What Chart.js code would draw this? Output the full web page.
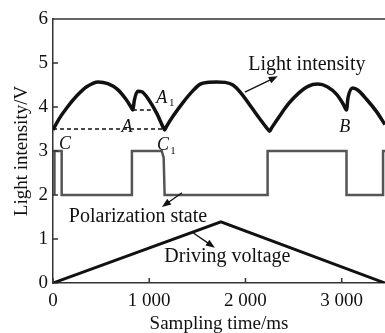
<!DOCTYPE html>
<html lang="en">
<head>
  <meta charset="UTF-8">
  <title>Light intensity, polarization state and driving voltage</title>
  <script src="https://cdn.jsdelivr.net/npm/chart.js"></script>
  <style>
    html, body {
      margin: 0;
      padding: 0;
      background: #fff;
      overflow: hidden;
    }
    .chart-box {
      position: relative;
      width: 385px;
      height: 333px;
    }
  </style>
</head>
<body>
  <div class="chart-box">
    <canvas id="lightChart"></canvas>
  </div>

  <script>
    // values (time in ms, signal in V)
    const lightTime = [0, 60, 150, 250, 350, 470, 570, 670, 760, 810, 830, 845, 880, 920, 1000, 1080, 1140, 1160, 1180,
      1250, 1350, 1450, 1530, 1620, 1700, 1790, 1870, 1960, 2060, 2160, 2230, 2250, 2270, 2350, 2450, 2550, 2650,
      2750, 2850, 2950, 3020, 3050, 3065, 3115, 3170, 3260, 3360, 3450];
    const lightValue = [3.48, 3.72, 4.0, 4.26, 4.46, 4.57, 4.53, 4.4, 4.17, 4.0, 3.93, 4.15, 4.36, 4.35, 4.15, 3.85, 3.56, 3.48, 3.56,
      3.8, 4.1, 4.36, 4.52, 4.56, 4.57, 4.56, 4.5, 4.3, 4.0, 3.7, 3.5, 3.45, 3.52, 3.78, 4.08, 4.31, 4.47,
      4.52, 4.46, 4.28, 4.05, 3.93, 4.2, 4.43, 4.38, 4.17, 3.9, 3.6];

    const polTime = [15, 15, 90, 90, 820, 820, 1130, 1150, 1160, 2230, 2230, 3050, 3050, 3430, 3430, 3450];
    const polValue = [2, 3, 3, 2, 2, 3, 3, 2.85, 2, 2, 3, 3, 2, 2, 3, 3];

    const driveTime = [0, 1745, 3450];
    const driveValue = [0, 1.39, 0];

    // dashed reference levels
    const levelCTime = [0, 1160];
    const levelCValue = [3.5, 3.5];
    const levelATime = [830, 1030];
    const levelAValue = [3.93, 3.93];

    const xTicks = [0, 1000, 2000, 3000];
    const yTicks = [0, 1, 2, 3, 4, 5, 6];

    // text annotations, placed in data coordinates
    const notes = [
      { text: 'Light intensity', t: 2638, v: 4.95 },
      { text: 'Polarization state', t: 883, v: 1.5 },
      { text: 'Driving voltage', t: 1812, v: 0.59 }
    ];
    const arrows = [
      { from: [1994, 4.34], to: [2336, 4.70] },
      { from: [1340, 2.05], to: [1132, 1.73] },
      { from: [1443, 1.16], to: [1682, 0.80] }
    ];
    const marks = [
      { text: 'C', sub: '', t: 125, v: 3.16 },
      { text: 'A', sub: '', t: 768, v: 3.55 },
      { text: 'A', sub: '1', t: 1130, v: 4.2 },
      { text: 'C', sub: '1', t: 1142, v: 3.12 },
      { text: 'B', sub: '', t: 3032, v: 3.55 }
    ];

    const serif = '"Liberation Serif", "Times New Roman", serif';
    const axisColor = '#333';

    function toPoints(xs, ys) {
      return xs.map((x, i) => ({ x: x, y: ys[i] }));
    }

    // top frame line, inward ticks, labels and arrows
    const framePlugin = {
      id: 'framePlugin',
      afterDraw(chart) {
        const ctx = chart.ctx;
        const area = chart.chartArea;
        const x = chart.scales.x;
        const y = chart.scales.y;

        ctx.save();
        ctx.strokeStyle = axisColor;
        ctx.lineWidth = 1.5;
        ctx.beginPath();
        ctx.moveTo(area.left, area.top);
        ctx.lineTo(chart.width, area.top);
        yTicks.forEach(v => {
          const py = y.getPixelForValue(v);
          ctx.moveTo(area.left, py);
          ctx.lineTo(area.left + 5, py);
        });
        xTicks.forEach(v => {
          const px = x.getPixelForValue(v);
          ctx.moveTo(px, area.bottom);
          ctx.lineTo(px, area.bottom - 5);
        });
        ctx.stroke();

        ctx.fillStyle = '#111';
        ctx.textAlign = 'center';
        ctx.textBaseline = 'middle';
        ctx.font = '20px ' + serif;
        notes.forEach(n => {
          ctx.fillText(n.text, x.getPixelForValue(n.t), y.getPixelForValue(n.v));
        });

        marks.forEach(m => {
          const px = x.getPixelForValue(m.t);
          const py = y.getPixelForValue(m.v);
          ctx.font = 'italic 18px ' + serif;
          ctx.fillText(m.text, px, py);
          if (m.sub) {
            ctx.font = '11px ' + serif;
            ctx.fillText(m.sub, px + 10, py + 5);
          }
        });

        ctx.strokeStyle = '#111';
        ctx.lineWidth = 1.3;
        arrows.forEach(a => {
          const x1 = x.getPixelForValue(a.from[0]);
          const y1 = y.getPixelForValue(a.from[1]);
          const x2 = x.getPixelForValue(a.to[0]);
          const y2 = y.getPixelForValue(a.to[1]);
          const ang = Math.atan2(y2 - y1, x2 - x1);
          ctx.beginPath();
          ctx.moveTo(x1, y1);
          ctx.lineTo(x2 - 6 * Math.cos(ang), y2 - 6 * Math.sin(ang));
          ctx.stroke();
          ctx.beginPath();
          ctx.moveTo(x2, y2);
          ctx.lineTo(x2 - 9 * Math.cos(ang) + 3.5 * Math.sin(ang), y2 - 9 * Math.sin(ang) - 3.5 * Math.cos(ang));
          ctx.lineTo(x2 - 9 * Math.cos(ang) - 3.5 * Math.sin(ang), y2 - 9 * Math.sin(ang) + 3.5 * Math.cos(ang));
          ctx.closePath();
          ctx.fill();
        });
        ctx.restore();
      }
    };

    const ctx = document.getElementById('lightChart').getContext('2d');
    const lightChart = new Chart(ctx, {
      type: 'line',
      data: {
        datasets: [
          {
            label: 'Light intensity',
            data: toPoints(lightTime, lightValue),
            borderColor: '#111',
            borderWidth: 3.5,
            cubicInterpolationMode: 'monotone',
            pointRadius: 0
          },
          {
            label: 'Polarization state',
            data: toPoints(polTime, polValue),
            borderColor: '#555',
            borderWidth: 2.5,
            tension: 0,
            pointRadius: 0
          },
          {
            label: 'Driving voltage',
            data: toPoints(driveTime, driveValue),
            borderColor: '#111',
            borderWidth: 3,
            tension: 0,
            pointRadius: 0
          },
          {
            label: 'Level C',
            data: toPoints(levelCTime, levelCValue),
            borderColor: '#111',
            borderWidth: 1.5,
            borderDash: [4, 3],
            pointRadius: 0
          },
          {
            label: 'Level A',
            data: toPoints(levelATime, levelAValue),
            borderColor: '#111',
            borderWidth: 1.5,
            borderDash: [4, 3],
            pointRadius: 0
          }
        ]
      },
      options: {
        responsive: true,
        maintainAspectRatio: false,
        animation: false,
        layout: { padding: { left: 0, right: 0, top: 19, bottom: 0 } },
        scales: {
          x: {
            type: 'linear',
            min: 0,
            max: 3450,
            afterFit: s => { s.height = 50; },
            afterBuildTicks: s => { s.ticks = xTicks.map(v => ({ value: v })); },
            grid: { drawOnChartArea: false, drawTicks: false },
            border: { display: true, color: axisColor, width: 1.5 },
            ticks: {
              autoSkip: false,
              maxRotation: 0,
              padding: 7,
              color: '#111',
              font: { family: serif, size: 19 },
              callback: v => (v === 0 ? '0' : (v / 1000) + ' 000')
            },
            title: {
              display: true,
              text: 'Sampling time/ms',
              color: '#111',
              font: { family: serif, size: 19, lineHeight: 0.9 },
              padding: { top: 0, bottom: 0 }
            }
          },
          y: {
            min: 0,
            max: 6,
            afterFit: s => { s.width = 53; },
            afterBuildTicks: s => { s.ticks = yTicks.map(v => ({ value: v })); },
            grid: { drawOnChartArea: false, drawTicks: false },
            border: { display: true, color: axisColor, width: 1.5 },
            ticks: {
              autoSkip: false,
              padding: 5,
              color: '#111',
              font: { family: serif, size: 19 }
            },
            title: {
              display: true,
              text: 'Light intensity/V',
              color: '#111',
              font: { family: serif, size: 19 },
              padding: { top: 11, bottom: 0 }
            }
          }
        },
        plugins: {
          legend: { display: false },
          tooltip: { enabled: false }
        }
      },
      plugins: [framePlugin]
    });
  </script>
</body>
</html>
